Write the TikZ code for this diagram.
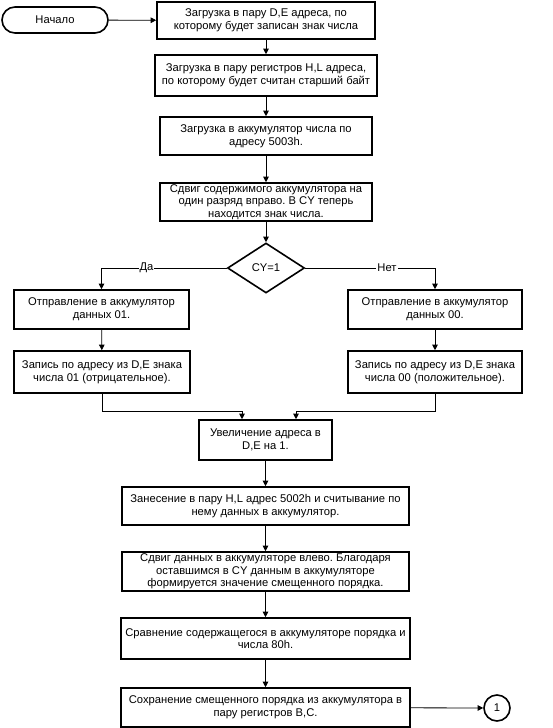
\documentclass[tikz,border=0pt]{standalone}
\usepackage{fontspec}
\setmainfont{Liberation Sans}
\frenchspacing
\usetikzlibrary{shapes.geometric,arrows.meta}
\begin{document}
\begin{tikzpicture}[x=1pt,y=-1pt,
  font=\fontsize{11.2}{12.6}\selectfont\frenchspacing,
  box/.style={draw,line width=1.6pt,rectangle,align=center,inner sep=0pt},
  conn/.style={line width=0.8pt,-{Triangle[length=5.5pt,width=5.5pt]}},
  lbl/.style={fill=white,inner sep=1pt}]
\useasboundingbox (0,0) rectangle (553,728);
\node[draw,line width=1.6pt,rounded corners=13pt,minimum width=106pt,minimum height=26pt,inner sep=0pt] (start) at (55,20) {Начало};
\node[box,minimum width=218pt,minimum height=37pt] (b1) at (266,20.5) {Загрузка в пару D,E адреса, по\\которому будет записан знак числа};
\node[box,minimum width=222pt,minimum height=41pt] (b2) at (266,75.5) {Загрузка в пару регистров H,L адреса,\\по которому будет считан старший байт};
\node[box,minimum width=212pt,minimum height=38pt] (b3) at (266,136) {Загрузка в аккумулятор числа по\\адресу 5003h.};
\node[box,minimum width=212pt,minimum height=38pt] (b4) at (266,202) {Сдвиг содержимого аккумулятора на\\один разряд вправо. В CY теперь\\находится знак числа.};
\node[draw,line width=1.6pt,diamond,minimum width=77pt,minimum height=50pt,inner sep=0pt] (d) at (266,268) {CY=1};
\node[box,minimum width=175pt,minimum height=39pt] (l1) at (101.5,309.5) {Отправление в аккумулятор\\данных 01.};
\node[box,minimum width=174pt,minimum height=39pt] (r1) at (435,309.5) {Отправление в аккумулятор\\данных 00.};
\node[box,minimum width=176pt,minimum height=42pt] (l2) at (102,372) {Запись по адресу из D,E знака\\числа 01 (отрицательное).};
\node[box,minimum width=174pt,minimum height=42pt] (r2) at (435,372) {Запись по адресу из D,E знака\\числа 00 (положительное).};
\node[box,minimum width=133pt,minimum height=40pt] (inc) at (265.5,440) {Увеличение адреса в\\D,E на 1.};
\node[box,minimum width=287pt,minimum height=38pt] (zan) at (265.5,506) {Занесение в пару H,L адрес 5002h и считывание по\\нему данных в аккумулятор.};
\node[box,minimum width=287pt,minimum height=39pt] (sdv) at (265.5,571.5) {Сдвиг данных в аккумуляторе влево. Благодаря\\оставшимся в CY данным в аккумуляторе\\формируется значение смещенного порядка.};
\node[box,minimum width=289pt,minimum height=41pt] (srav) at (265.5,638.5) {Сравнение содержащегося в аккумуляторе порядка и\\числа 80h.};
\node[box,minimum width=289pt,minimum height=39pt] (sohr) at (265.5,707.5) {Сохранение смещенного порядка из аккумулятора в\\пару регистров B,C.};
\node[draw,line width=1.6pt,circle,minimum size=26pt,inner sep=0pt] (c1) at (497,708) {1};
\draw[conn] (start) -- (b1);
\draw[conn] (b1) -- (b2);
\draw[conn] (b2) -- (b3);
\draw[conn] (b3) -- (b4);
\draw[conn] (b4) -- (d);
\draw[conn] (d.west) -| node[lbl,pos=0.32] {Да} (l1.north);
\draw[conn] (d.east) -| node[lbl,pos=0.315] {Нет} (r1.north);
\draw[conn] (l1) -- (l2);
\draw[conn] (r1) -- (r2);
\coordinate (mL) at (242,411);
\coordinate (mR) at (296,411);
\draw[conn] (l2.south) |- (mL) -- (mL |- inc.north);
\draw[conn] (r2.south) |- (mR) -- (mR |- inc.north);
\draw[conn] (inc) -- (zan);
\draw[conn] (zan) -- (sdv);
\draw[conn] (sdv) -- (srav);
\draw[conn] (srav) -- (sohr);
\draw[conn] (sohr) -- (c1);
\end{tikzpicture}
\end{document}
